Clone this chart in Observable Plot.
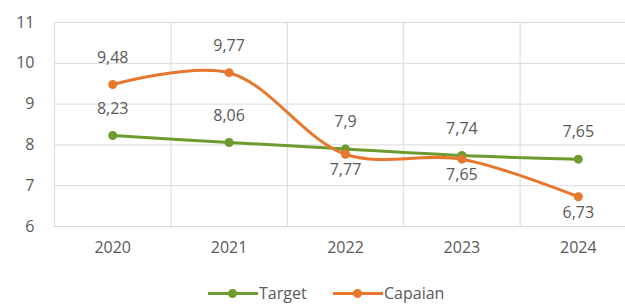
<!DOCTYPE html>
<html>
<head>
<meta charset="utf-8">
<script src="https://cdn.jsdelivr.net/npm/d3@7"></script>
<script src="https://cdn.jsdelivr.net/npm/@observablehq/plot@0.6"></script>
<style>
  body { margin: 0; background: #fff; font-family: "Open Sans", "Liberation Sans", sans-serif; }
  #wrap { width: 625px; height: 305px; overflow: hidden; position: relative; }
  .legend { position: absolute; top: 282px; left: 0; width: 625px; height: 22px; font-size: 16px; color: #595959; }
  .item { position: absolute; top: 0; display: flex; align-items: center; height: 22px; }
  .sw { position: relative; width: 50px; height: 3px; margin-right: 1px; }
  .sw i { position: absolute; left: 20px; top: -3px; width: 9px; height: 9px; border-radius: 50%; }
</style>
</head>
<body>
<div id="wrap"></div>
<script>
const years = [2020, 2021, 2022, 2023, 2024];
const seriesNames = ["Target", "Capaian"];
const target = [8.23, 8.06, 7.9, 7.74, 7.65];
const capaian = [9.48, 9.77, 7.77, 7.65, 6.73];
const yTicks = [6, 7, 8, 9, 10, 11];
const colors = ["#6e9b2d", "#e8772e"];

const rows = [];
years.forEach((yr, i) => {
  rows.push({year: yr, series: "Target", value: target[i], above: true});
  rows.push({year: yr, series: "Capaian", value: capaian[i], above: capaian[i] > target[i]});
});
const bounds = years.map(y => y - 0.5).concat([years[years.length - 1] + 0.5]);
const fmt = v => String(v).replace(".", ",");

const chart = Plot.plot({
  width: 625,
  height: 272,
  marginTop: 22,
  marginBottom: 46,
  marginLeft: 54,
  marginRight: 0,
  style: {fontFamily: "'Open Sans', 'Liberation Sans', sans-serif", fontSize: "16px", color: "#595959", background: "#fff"},
  x: {domain: [2019.5, 2024.5], range: [54, 636], ticks: years, tickFormat: d => String(d), label: null},
  y: {domain: [6, 11], ticks: yTicks, label: null},
  color: {domain: seriesNames, range: colors},
  marks: [
    Plot.gridY(yTicks, {stroke: "#d9d9d9", strokeOpacity: 1, strokeWidth: 1}),
    Plot.ruleX(bounds, {stroke: "#d9d9d9", strokeWidth: 1}),
    Plot.axisX(years, {tickSize: 0, tickPadding: 15, fontSize: 16, fill: "#595959", tickFormat: d => String(d), label: null}),
    Plot.axisY(yTicks, {tickSize: 0, tickPadding: 20, fontSize: 16, fill: "#595959", label: null}),
    Plot.line(rows, {x: "year", y: "value", z: "series", stroke: "series", curve: "catmull-rom", strokeWidth: 3}),
    Plot.dot(rows, {x: "year", y: "value", fill: "series", r: 4.5, stroke: "none"}),
    Plot.text(rows.filter(d => d.above), {x: "year", y: "value", text: d => fmt(d.value), dy: -27, fill: "#595959", fontSize: 16}),
    Plot.text(rows.filter(d => !d.above), {x: "year", y: "value", text: d => fmt(d.value), dy: 16, fill: "#595959", fontSize: 16})
  ]
});

const wrap = document.getElementById("wrap");
wrap.appendChild(chart);
const legend = document.createElement("div");
legend.className = "legend";
const legendLeft = [208, 333];
seriesNames.forEach((name, i) => {
  const it = document.createElement("div");
  it.className = "item";
  it.style.left = legendLeft[i] + "px";
  const sw = document.createElement("span");
  sw.className = "sw";
  sw.style.background = colors[i];
  const dot = document.createElement("i");
  dot.style.background = colors[i];
  sw.appendChild(dot);
  const label = document.createElement("span");
  label.textContent = name;
  it.appendChild(sw);
  it.appendChild(label);
  legend.appendChild(it);
});
wrap.appendChild(legend);
</script>
</body>
</html>
